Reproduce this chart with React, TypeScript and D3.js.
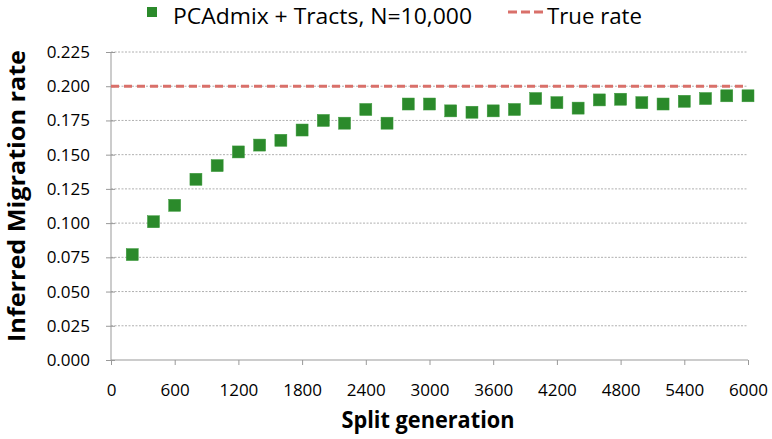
import React, { useEffect, useRef } from "react";
import * as d3 from "d3";

const generations = [
  200, 400, 600, 800, 1000, 1200, 1400, 1600, 1800, 2000,
  2200, 2400, 2600, 2800, 3000, 3200, 3400, 3600, 3800, 4000,
  4200, 4400, 4600, 4800, 5000, 5200, 5400, 5600, 5800, 6000,
];
const inferredRates = [
  0.077, 0.101, 0.113, 0.132, 0.142, 0.152, 0.157, 0.1605, 0.168, 0.175,
  0.173, 0.183, 0.173, 0.187, 0.187, 0.182, 0.181, 0.182, 0.183, 0.191,
  0.188, 0.184, 0.19, 0.1905, 0.188, 0.187, 0.189, 0.191, 0.193, 0.193,
];
const trueRate = 0.2;
const xTicks = [0, 600, 1200, 1800, 2400, 3000, 3600, 4200, 4800, 5400, 6000];
const yTicks = [0, 0.025, 0.05, 0.075, 0.1, 0.125, 0.15, 0.175, 0.2, 0.225];
const seriesLabel = "PCAdmix + Tracts, N=10,000";
const trueLabel = "True rate";

const W = 772;
const H = 439;
const FONT = "'Open Sans', 'DejaVu Sans', sans-serif";

const App: React.FC = () => {
  const svgRef = useRef<SVGSVGElement | null>(null);

  useEffect(() => {
    if (!svgRef.current) return;
    const svg = d3.select(svgRef.current);
    svg.selectAll("*").remove();

    const x = d3.scaleLinear().domain([0, 6000]).range([111, 748]);
    const y = d3.scaleLinear().domain([0, 0.225]).range([360, 52]);

    // gridlines
    svg.append("g")
      .selectAll("line")
      .data(yTicks.filter(t => t > 0))
      .enter()
      .append("line")
      .attr("x1", x(0))
      .attr("x2", x(6000))
      .attr("y1", d => y(d))
      .attr("y2", d => y(d))
      .attr("stroke", "#b0b0b0")
      .attr("stroke-width", 1)
      .attr("stroke-dasharray", "2,1.5");

    // y axis
    const yAxis = svg.append("g").attr("transform", `translate(${x(0)},0)`)
      .call(d3.axisLeft(y).tickValues(yTicks).tickFormat(d3.format(".3f")).tickSize(5).tickPadding(16));
    yAxis.select(".domain").attr("stroke", "#999").attr("d", `M0,${y(0.225)}V${y(0)}`);
    yAxis.selectAll(".tick line").attr("stroke", "#999").attr("x1", 4);
    yAxis.selectAll(".tick text")
      .attr("fill", "#000")
      .style("font-family", FONT)
      .style("font-size", "17px");

    // x axis
    const xAxis = svg.append("g").attr("transform", `translate(0,${y(0)})`)
      .call(d3.axisBottom(x).tickValues(xTicks).tickFormat(d3.format("d")).tickSize(5).tickPadding(19));
    xAxis.select(".domain").attr("stroke", "#999").attr("d", `M${x(0)},0H${x(6000)}`);
    xAxis.selectAll(".tick line").attr("stroke", "#999");
    xAxis.selectAll(".tick text")
      .attr("fill", "#000")
      .style("font-family", FONT)
      .style("font-size", "17px");

    // true rate line
    svg.append("line")
      .attr("x1", x(0))
      .attr("x2", x(6000))
      .attr("y1", y(trueRate))
      .attr("y2", y(trueRate))
      .attr("stroke", "#d9706a")
      .attr("stroke-width", 3)
      .attr("stroke-dasharray", "8,5");

    // points
    const s = 12;
    svg.append("g")
      .selectAll("rect")
      .data(generations.map((g, i) => ({ g, v: inferredRates[i] })))
      .enter()
      .append("rect")
      .attr("x", d => x(d.g) - s / 2)
      .attr("y", d => y(d.v) - s / 2)
      .attr("width", s)
      .attr("height", s)
      .attr("fill", "#2b8a2b")
      .attr("stroke", "#3a9a3a")
      .attr("stroke-width", 0.5);

    // axis titles
    svg.append("text")
      .attr("transform", `translate(25,196) rotate(-90)`)
      .attr("text-anchor", "middle")
      .attr("textLength", 292)
      .attr("lengthAdjust", "spacingAndGlyphs")
      .style("font-family", FONT)
      .style("font-weight", "bold")
      .style("font-size", "23px")
      .text("Inferred Migration rate");

    svg.append("text")
      .attr("x", 428)
      .attr("y", 428)
      .attr("text-anchor", "middle")
      .attr("textLength", 173)
      .attr("lengthAdjust", "spacingAndGlyphs")
      .style("font-family", FONT)
      .style("font-weight", "bold")
      .style("font-size", "23px")
      .text("Split generation");

    // legend
    const legend = svg.append("g");
    legend.append("rect")
      .attr("x", 147).attr("y", 7).attr("width", 10).attr("height", 10)
      .attr("fill", "#2b8a2b");
    legend.append("text")
      .attr("x", 173).attr("y", 24)
      .attr("textLength", 299)
      .attr("lengthAdjust", "spacingAndGlyphs")
      .style("font-family", FONT)
      .style("font-size", "22px")
      .text(seriesLabel);
    legend.append("line")
      .attr("x1", 508).attr("x2", 544).attr("y1", 12).attr("y2", 12)
      .attr("stroke", "#d9706a").attr("stroke-width", 3)
      .attr("stroke-dasharray", "9,4");
    legend.append("text")
      .attr("x", 547).attr("y", 24)
      .attr("textLength", 95)
      .attr("lengthAdjust", "spacingAndGlyphs")
      .style("font-family", FONT)
      .style("font-size", "22px")
      .text(trueLabel);
  }, []);

  return (
    <svg ref={svgRef} width={W} height={H} style={{ position: "absolute", left: 0, top: 0, background: "#fff" }} />
  );
};

export default App;
